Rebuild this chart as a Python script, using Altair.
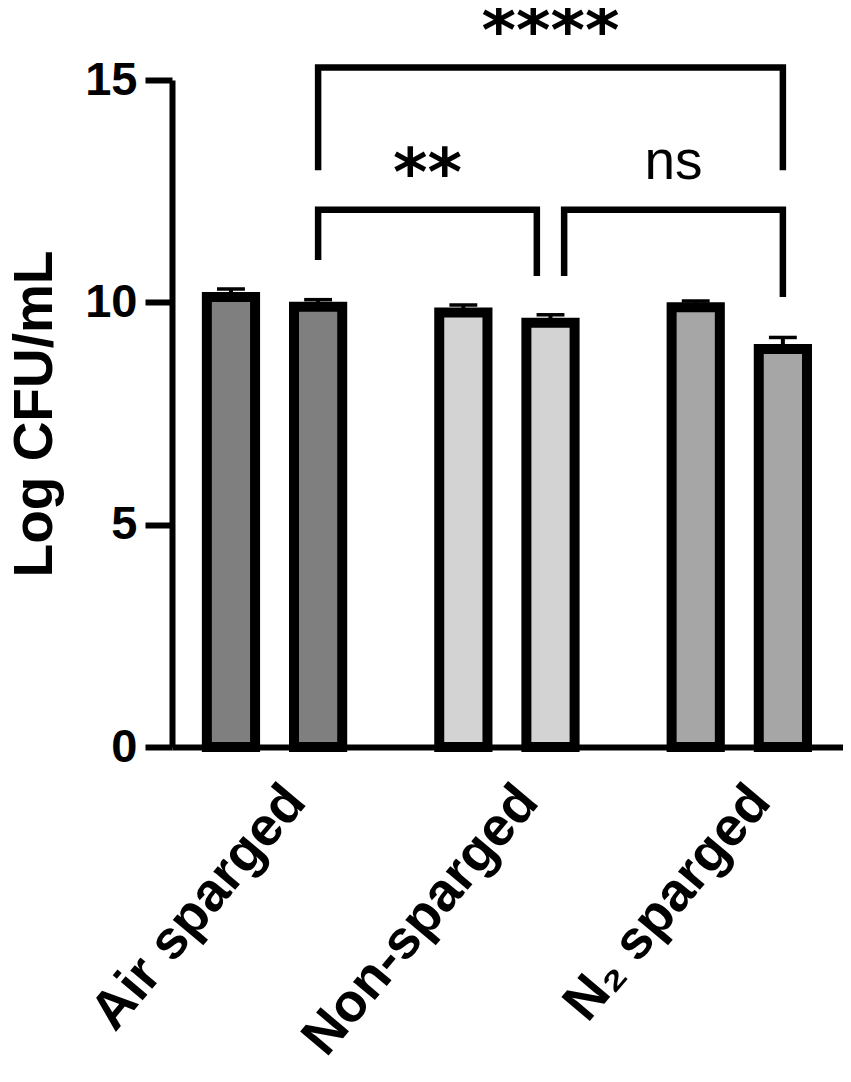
import altair as alt
import pandas as pd

# ---------------- data ----------------
groups = ["Air sparged", "Non-sparged", "N₂ sparged"]
bar_group = ["Air sparged", "Air sparged", "Non-sparged", "Non-sparged", "N₂ sparged", "N₂ sparged"]
bar_slot = [0, 1, 0, 1, 0, 1]
means = [10.12, 9.90, 9.77, 9.54, 9.89, 8.95]
sems = [0.18, 0.16, 0.17, 0.18, 0.14, 0.26]
group_fill = ["#7f7f7f", "#d3d3d3", "#a6a6a6"]

y_ticks = [0, 5, 10, 15]

# significance comparisons (bar indices, label, bracket top and leg ends in data units)
cmp_left = [1, 1, 3]
cmp_right = [5, 3, 5]
cmp_label = ["****", "**", "ns"]
cmp_top = [15.28, 12.08, 12.08]
cmp_left_end = [12.97, 10.95, 10.59]
cmp_right_end = [12.97, 10.59, 10.12]
cmp_left_nudge = [0.0, 0.0, 0.47]
cmp_right_nudge = [0.0, -0.47, 0.0]

# ---------------- layout helpers ----------------
GROUP_STEP, SLOT_STEP = 8, 3


def pos(i):
    return groups.index(bar_group[i]) * GROUP_STEP + bar_slot[i] * SLOT_STEP


bars = pd.DataFrame({"group": bar_group, "slot": bar_slot, "mean": means, "sem": sems})
bars["pos"] = [pos(i) for i in range(len(means))]

rows = []
for k in range(len(cmp_label)):
    xl = pos(cmp_left[k]) + cmp_left_nudge[k]
    xr = pos(cmp_right[k]) + cmp_right_nudge[k]
    pts = [(xl, cmp_left_end[k]), (xl, cmp_top[k]), (xr, cmp_top[k]), (xr, cmp_right_end[k])]
    for j, (px, py) in enumerate(pts):
        rows.append({"cmp": k, "k": j, "bx": px, "by": py})
brackets = pd.DataFrame(rows)

labels = pd.DataFrame({
    "label": cmp_label,
    "lx": [(pos(cmp_left[k]) + cmp_left_nudge[k] + pos(cmp_right[k]) + cmp_right_nudge[k]) / 2
           for k in range(len(cmp_label))],
    "ly": cmp_top,
})
labels["star"] = labels["label"].str.contains(r"\*")

centers = [gi * GROUP_STEP + SLOT_STEP / 2 for gi in range(len(groups))]
label_expr = " : ".join(
    [f"datum.value == {c} ? '{g}'" for c, g in zip(centers[:-1], groups[:-1])] + [f"'{groups[-1]}'"]
)

FONT = "Liberation Sans"
xscale = alt.Scale(domain=[-2.03, 21.07], nice=False, zero=False)
yscale = alt.Scale(domain=[0, 15], nice=False)

xaxis = alt.Axis(
    values=centers, labelExpr=label_expr, title=None, ticks=False, grid=False,
    domainColor="black", domainWidth=6, labelAngle=-50, labelAlign="right",
    labelBaseline="top", labelFont=FONT, labelFontWeight="bold", labelFontSize=54,
    labelColor="black", labelPadding=28, labelOffset=0, labelOverlap=False,
    labelLimit=600,
)
yaxis = alt.Axis(
    values=y_ticks, title="Log CFU/mL", grid=False, domainColor="black", domainWidth=6,
    tickColor="black", tickWidth=6, tickSize=27, labelFont=FONT, labelFontWeight="bold",
    labelFontSize=47, labelColor="black", labelPadding=8, titleFont=FONT,
    titleFontWeight="bold", titleFontSize=55, titleColor="black", titlePadding=21,
)

base = alt.Chart(bars).transform_calculate(
    x0="datum.pos - 0.83", x1="datum.pos + 0.83",
    top="datum.mean + datum.sem", c0="datum.pos - 0.48", c1="datum.pos + 0.48",
)

stem = base.mark_rule(color="black", strokeWidth=4).encode(
    x=alt.X("pos:Q", scale=xscale, axis=xaxis),
    y=alt.Y("mean:Q", scale=yscale, axis=yaxis),
    y2="top:Q",
)
cap = base.mark_rule(color="black", strokeWidth=3.5).encode(
    x=alt.X("c0:Q", scale=xscale, axis=xaxis), x2="c1:Q",
    y=alt.Y("top:Q", scale=yscale, axis=yaxis),
)
rect = base.mark_rect(stroke="black", strokeWidth=10, strokeJoin="miter").encode(
    x=alt.X("x0:Q", scale=xscale, axis=xaxis), x2="x1:Q",
    y=alt.Y("mean:Q", scale=yscale, axis=yaxis), y2=alt.datum(0),
    fill=alt.Fill("group:N", scale=alt.Scale(domain=groups, range=group_fill), legend=None),
)

bracket = alt.Chart(brackets).mark_line(
    color="black", strokeWidth=6.5, strokeJoin="miter", strokeCap="butt"
).encode(
    x=alt.X("bx:Q", scale=xscale, axis=xaxis),
    y=alt.Y("by:Q", scale=yscale, axis=yaxis),
    detail="cmp:N", order="k:O",
)

stars = alt.Chart(labels).transform_filter("datum.star").mark_text(
    font="DejaVu Sans", fontWeight="bold", fontSize=66, color="black",
    baseline="alphabetic", align="center", dy=-15,
).encode(
    x=alt.X("lx:Q", scale=xscale, axis=xaxis),
    y=alt.Y("ly:Q", scale=yscale, axis=yaxis),
    text="label:N",
)
ns = alt.Chart(labels).transform_filter("!datum.star").mark_text(
    font=FONT, fontSize=55, color="black", baseline="alphabetic", align="center", dy=-31,
).encode(
    x=alt.X("lx:Q", scale=xscale, axis=xaxis),
    y=alt.Y("ly:Q", scale=yscale, axis=yaxis),
    text="label:N",
)

chart = alt.layer(bracket, stem, cap, rect, stars, ns).properties(
    width=671, height=667,
    autosize=alt.AutoSizeParams(type="none"),
    padding={"left": 164, "top": 72, "right": 0, "bottom": 320},
).configure_view(stroke=None)

chart.save("out.html", embed_options={"renderer": "svg", "actions": False})
